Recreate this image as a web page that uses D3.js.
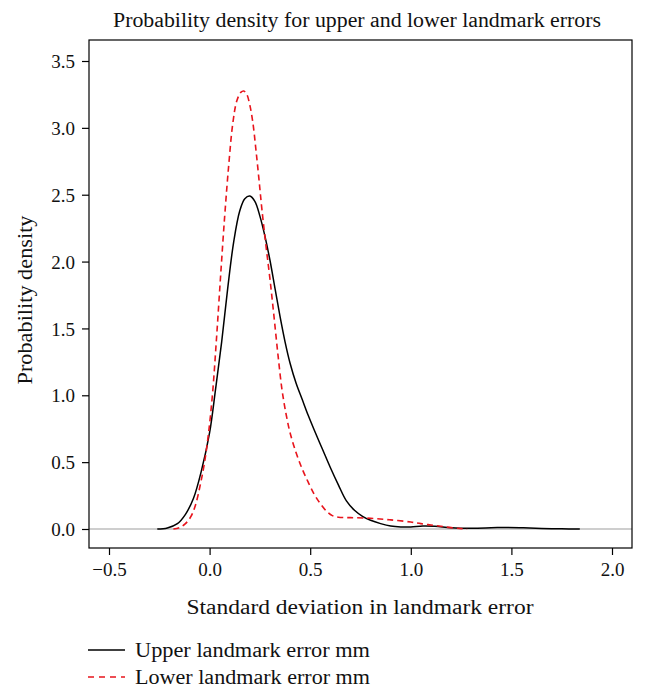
<!DOCTYPE html>
<html>
<head>
<meta charset="utf-8">
<script src="https://cdn.jsdelivr.net/npm/d3@7"></script>
<style>
  body { margin: 0; background: #fff; }
  text { font-family: "Liberation Serif", "DejaVu Serif", serif; fill: #111; }
</style>
</head>
<body>
<div id="chart"></div>
<script>
// density estimates: sd values and density values
const upperX = [-0.26, -0.21, -0.16, -0.12, -0.08, -0.04, 0, 0.03, 0.06, 0.09, 0.12, 0.15, 0.175, 0.2, 0.225, 0.25, 0.275, 0.3, 0.325, 0.35, 0.375, 0.4, 0.43, 0.46, 0.49, 0.52, 0.56, 0.6, 0.64, 0.68, 0.72, 0.76, 0.8, 0.85, 0.9, 0.95, 1.0, 1.06, 1.12, 1.2, 1.3, 1.4, 1.48, 1.56, 1.65, 1.75, 1.84];
const upperY = [0, 0.008, 0.04, 0.11, 0.23, 0.44, 0.72, 1.05, 1.40, 1.80, 2.15, 2.38, 2.47, 2.49, 2.45, 2.34, 2.19, 2.01, 1.80, 1.59, 1.40, 1.24, 1.09, 0.97, 0.85, 0.74, 0.60, 0.46, 0.33, 0.21, 0.14, 0.095, 0.065, 0.04, 0.022, 0.015, 0.015, 0.022, 0.02, 0.01, 0.006, 0.009, 0.012, 0.009, 0.004, 0.001, 0];

const lowerX = [-0.18, -0.15, -0.12, -0.094, -0.07, -0.045, -0.025, -0.005, 0.015, 0.035, 0.055, 0.075, 0.095, 0.115, 0.135, 0.155, 0.17, 0.185, 0.2, 0.215, 0.23, 0.245, 0.26, 0.28, 0.3, 0.32, 0.34, 0.36, 0.38, 0.4, 0.43, 0.46, 0.49, 0.52, 0.55, 0.58, 0.61, 0.64, 0.7, 0.8, 0.9, 1.0, 1.05, 1.1, 1.15, 1.2, 1.25, 1.28];
const lowerY = [0, 0.01, 0.04, 0.09, 0.18, 0.34, 0.50, 0.72, 1.02, 1.44, 1.90, 2.34, 2.72, 3.03, 3.20, 3.265, 3.275, 3.25, 3.17, 3.04, 2.84, 2.62, 2.39, 2.12, 1.87, 1.59, 1.30, 1.04, 0.86, 0.72, 0.57, 0.45, 0.35, 0.26, 0.19, 0.135, 0.10, 0.088, 0.085, 0.08, 0.068, 0.052, 0.04, 0.03, 0.02, 0.01, 0.003, 0];

const xTicks = [-0.5, 0.0, 0.5, 1.0, 1.5, 2.0];
const yTicks = [0.0, 0.5, 1.0, 1.5, 2.0, 2.5, 3.0, 3.5];

const seriesNames = ["Upper landmark error mm", "Lower landmark error mm"];

const width = 648, height = 695;
const box = { left: 89, right: 632, top: 40, bottom: 548 };

const svg = d3.select("#chart")
  .append("svg")
  .attr("width", width)
  .attr("height", height);

const x = d3.scaleLinear().domain([-0.5, 2.0]).range([109, 612]);
const y = d3.scaleLinear().domain([0, 3.5]).range([529, 61]);

// zero line
svg.append("line")
  .attr("x1", box.left).attr("x2", box.right)
  .attr("y1", y(0)).attr("y2", y(0))
  .attr("stroke", "#bebebe")
  .attr("stroke-width", 1.3);

const line = d3.line()
  .x(d => x(d[0]))
  .y(d => y(d[1]))
  .curve(d3.curveCatmullRom.alpha(0.5));

const upper = upperX.map((v, i) => [v, upperY[i]]);
const lower = lowerX.map((v, i) => [v, lowerY[i]]);

svg.append("path")
  .datum(upper)
  .attr("d", line)
  .attr("fill", "none")
  .attr("stroke", "#000")
  .attr("stroke-width", 1.5);

svg.append("path")
  .datum(lower)
  .attr("d", line)
  .attr("fill", "none")
  .attr("stroke", "#e8141c")
  .attr("stroke-width", 1.6)
  .attr("stroke-dasharray", "6,4");

// frame
svg.append("rect")
  .attr("x", box.left).attr("y", box.top)
  .attr("width", box.right - box.left)
  .attr("height", box.bottom - box.top)
  .attr("fill", "none")
  .attr("stroke", "#000")
  .attr("stroke-width", 1.2);

// axes
const xAxis = svg.append("g")
  .attr("transform", `translate(0,${box.bottom})`)
  .call(d3.axisBottom(x).tickValues(xTicks).tickSize(7).tickPadding(8)
    .tickFormat(d => d3.format(".1f")(d).replace("-", "\u2212")));

const yAxis = svg.append("g")
  .attr("transform", `translate(${box.left},0)`)
  .call(d3.axisLeft(y).tickValues(yTicks).tickSize(7).tickPadding(7)
    .tickFormat(d3.format(".1f")));

[xAxis, yAxis].forEach(g => {
  g.select(".domain").remove();
  g.selectAll(".tick line").attr("stroke", "#000").attr("stroke-width", 1.2);
  g.selectAll(".tick text")
    .style("font-family", "'Liberation Serif', serif")
    .style("font-size", "19px")
    .attr("fill", "#111");
});
yAxis.selectAll(".tick text").attr("dy", "0.35em");

// titles (widths stretched to match the wider original face)
svg.append("text")
  .attr("x", 357).attr("y", 27)
  .attr("text-anchor", "middle")
  .attr("textLength", 488)
  .attr("lengthAdjust", "spacingAndGlyphs")
  .style("font-size", "20px")
  .text("Probability density for upper and lower landmark errors");

svg.append("text")
  .attr("x", 360).attr("y", 614)
  .attr("text-anchor", "middle")
  .attr("textLength", 347)
  .attr("lengthAdjust", "spacingAndGlyphs")
  .style("font-size", "20px")
  .text("Standard deviation in landmark error");

svg.append("text")
  .attr("transform", "translate(32,300) rotate(-90)")
  .attr("text-anchor", "middle")
  .attr("textLength", 169)
  .attr("lengthAdjust", "spacingAndGlyphs")
  .style("font-size", "20px")
  .text("Probability density");

// legend
const legend = svg.append("g");
seriesNames.forEach((name, i) => {
  const ly = 650 + i * 27;
  legend.append("line")
    .attr("x1", 88).attr("x2", 125)
    .attr("y1", ly).attr("y2", ly)
    .attr("stroke", i === 0 ? "#000" : "#e8141c")
    .attr("stroke-width", 1.5)
    .attr("stroke-dasharray", i === 0 ? null : "6,5");
  legend.append("text")
    .attr("x", 135).attr("y", ly + 7)
    .attr("textLength", 235)
    .attr("lengthAdjust", "spacingAndGlyphs")
    .style("font-size", "20px")
    .text(name);
});
</script>
</body>
</html>
